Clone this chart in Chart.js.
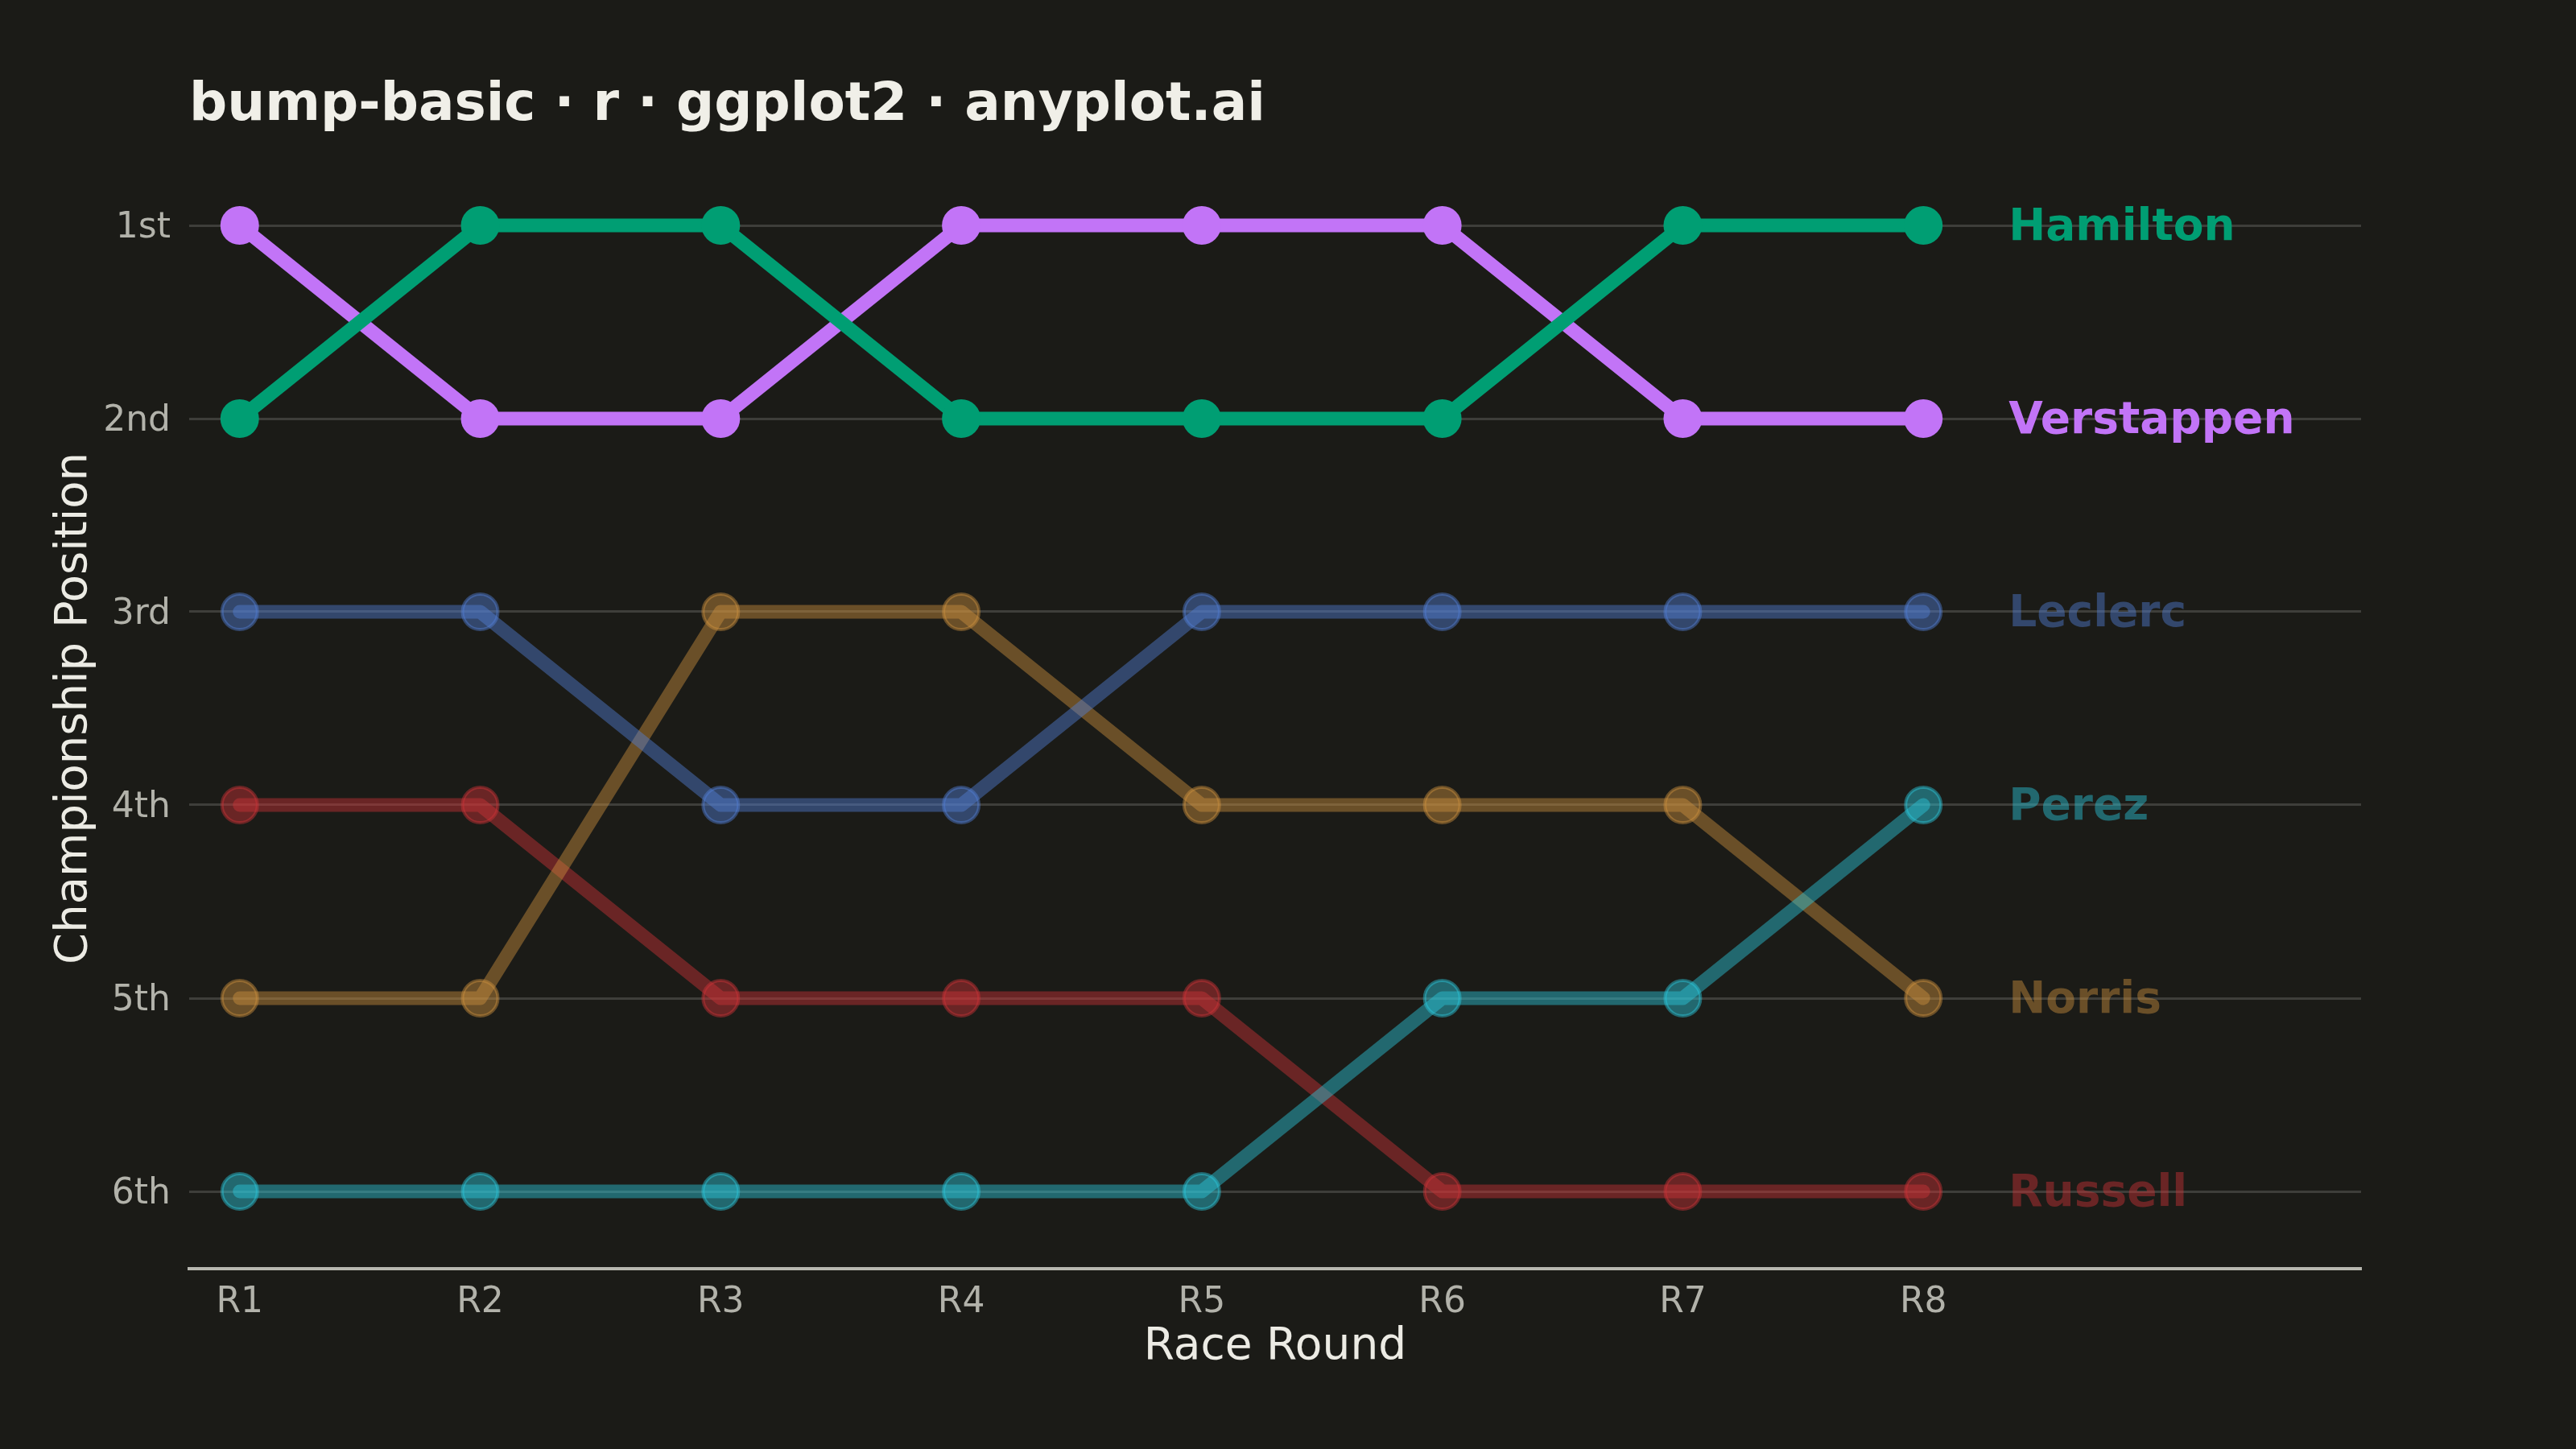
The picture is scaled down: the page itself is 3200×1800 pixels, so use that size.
<!DOCTYPE html>
<html>
<head>
<meta charset="utf-8">
<script src="https://cdn.jsdelivr.net/npm/chart.js@4.4.1/dist/chart.umd.min.js"></script>
<style>
  html, body { margin: 0; padding: 0; background: #1b1b17; }
  #wrap { width: 3200px; height: 1800px; }
</style>
</head>
<body>
<div id="wrap"><canvas id="bump" width="3200" height="1800"></canvas></div>
<script>
// race rounds and championship positions per driver
const rounds = ['R1', 'R2', 'R3', 'R4', 'R5', 'R6', 'R7', 'R8'];
const positionLabels = ['1st', '2nd', '3rd', '4th', '5th', '6th'];
const drivers = ['Hamilton', 'Verstappen', 'Leclerc', 'Perez', 'Norris', 'Russell'];
const hamilton   = [2, 1, 1, 2, 2, 2, 1, 1];
const verstappen = [1, 2, 2, 1, 1, 1, 2, 2];
const leclerc    = [3, 3, 4, 4, 3, 3, 3, 3];
const perez      = [6, 6, 6, 6, 6, 5, 5, 4];
const norris     = [5, 5, 3, 3, 4, 4, 4, 5];
const russell    = [4, 4, 5, 5, 5, 6, 6, 6];
const highlighted = ['Hamilton', 'Verstappen'];

const seriesValues = [hamilton, verstappen, leclerc, perez, norris, russell];
const baseColors = {
    Hamilton:   [0, 158, 115],
    Verstappen: [194, 116, 247],
    Leclerc:    [82, 127, 212],
    Perez:      [45, 200, 220],
    Norris:     [205, 145, 61],
    Russell:    [205, 51, 56]
};

const rgba = (c, a) => `rgba(${c[0]}, ${c[1]}, ${c[2]}, ${a})`;
const FONT = "'DejaVu Sans', sans-serif";

const datasets = drivers.map((name, i) => {
    const hi = highlighted.includes(name);
    const c = baseColors[name];
    const main = hi ? rgba(c, 1) : rgba(c, 0.45);
    return {
        label: name,
        data: seriesValues[i].map((v, j) => ({ x: j + 1, y: v })),
        borderColor: main,
        borderWidth: 17,
        borderCapStyle: 'round',
        borderJoinStyle: 'round',
        pointRadius: hi ? 24 : 22,
        pointBorderWidth: hi ? 0 : 4,
        pointBackgroundColor: main,
        pointBorderColor: main,
        pointHoverRadius: hi ? 24 : 22,
        tension: 0,
        order: hi ? 0 : 1
    };
});

// driver name at the end of each line
const endLabels = {
    id: 'endLabels',
    afterDatasetsDraw(chart) {
        const ctx = chart.ctx;
        ctx.save();
        ctx.font = `bold 55px ${FONT}`;
        ctx.textBaseline = 'middle';
        ctx.textAlign = 'left';
        chart.data.datasets.forEach((ds, i) => {
            const meta = chart.getDatasetMeta(i);
            const last = meta.data[meta.data.length - 1];
            ctx.fillStyle = ds.borderColor;
            ctx.fillText(ds.label, last.x + 106, last.y + 4);
        });
        ctx.restore();
    }
};

const titleText = {
    id: 'titleText',
    afterDraw(chart) {
        const ctx = chart.ctx;
        ctx.save();
        ctx.font = `bold 66px ${FONT}`;
        ctx.fillStyle = '#f0efe8';
        ctx.textBaseline = 'alphabetic';
        ctx.fillText('bump-basic · r · ggplot2 · anyplot.ai', chart.chartArea.left, 149);
        ctx.restore();
    }
};

const bgFill = {
    id: 'bgFill',
    beforeDraw(chart) {
        const ctx = chart.ctx;
        ctx.save();
        ctx.fillStyle = '#1b1b17';
        ctx.fillRect(0, 0, chart.width, chart.height);
        ctx.restore();
    }
};

new Chart(document.getElementById('bump').getContext('2d'), {
    type: 'line',
    data: { datasets: datasets },
    options: {
        responsive: false,
        animation: false,
        devicePixelRatio: 1,
        layout: { padding: { top: 184, right: 267, bottom: 0, left: 0 } },
        plugins: {
            legend: { display: false },
            tooltip: { enabled: false }
        },
        scales: {
            x: {
                type: 'linear',
                min: 0.79,
                max: 9.82,
                afterBuildTicks: (scale) => {
                    scale.ticks = rounds.map((r, i) => ({ value: i + 1 }));
                },
                afterFit: (scale) => { scale.height = 224; },
                grid: { display: false, drawTicks: false },
                border: { display: true, color: '#b8b8b0', width: 4 },
                ticks: {
                    padding: 16,
                    color: '#b2b2aa',
                    font: { family: FONT, size: 44 },
                    callback: (v) => rounds[v - 1] || ''
                },
                title: {
                    display: true,
                    text: 'Race Round',
                    color: '#ecebe4',
                    font: { family: FONT, size: 55 },
                    padding: { top: 0, bottom: 93 }
                }
            },
            y: {
                type: 'linear',
                reverse: true,
                min: 0.6,
                max: 6.4,
                afterBuildTicks: (scale) => {
                    scale.ticks = positionLabels.map((p, i) => ({ value: i + 1 }));
                },
                afterFit: (scale) => { scale.width = 235; },
                grid: { color: '#3e3e3a', lineWidth: 3, drawTicks: false },
                border: { display: false },
                ticks: {
                    padding: 23,
                    labelOffset: 4,
                    color: '#b2b2aa',
                    font: { family: FONT, size: 44 },
                    callback: (v) => positionLabels[v - 1] || ''
                },
                title: {
                    display: true,
                    text: 'Championship Position',
                    color: '#ecebe4',
                    font: { family: FONT, size: 56 },
                    padding: { top: 59, bottom: 0 }
                }
            }
        }
    },
    plugins: [bgFill, endLabels, titleText]
});
</script>
</body>
</html>
